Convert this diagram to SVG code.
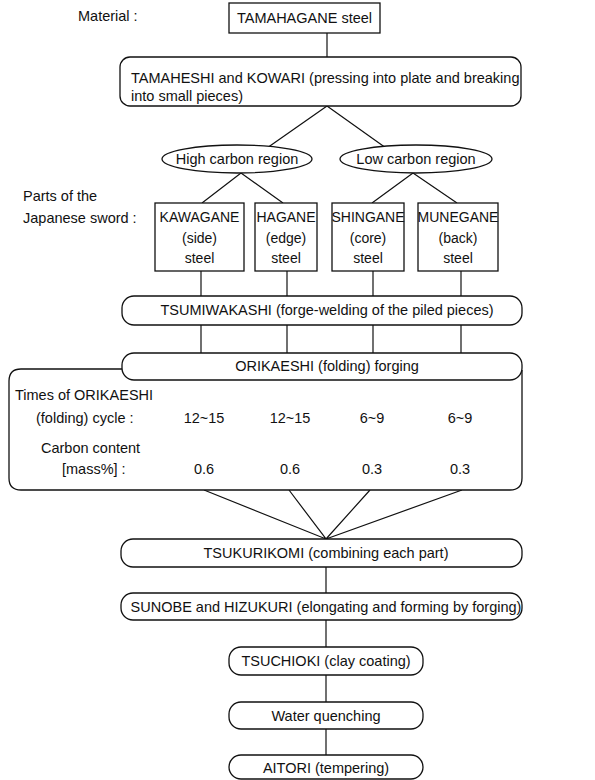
<svg xmlns="http://www.w3.org/2000/svg" width="595" height="780" viewBox="0 0 595 780">
<style>
text{font-family:"Liberation Sans",Arial,sans-serif;font-size:14.5px;fill:#111}
.c{text-anchor:middle}
.b{font-size:14px}
.s{fill:#fff;stroke:#111;stroke-width:1.3}
.l{stroke:#111;stroke-width:1.2;fill:none}
</style>
<rect width="595" height="780" fill="#fff"/>
<g id="connectors">
<line class="l" x1="327" y1="33" x2="327" y2="57"/>
<polyline class="l" points="267,148 327,106 386,148"/>
<polyline class="l" points="202,203 241,173 283,203"/>
<polyline class="l" points="372,203 413,173 457,203"/>
<line class="l" x1="201" y1="271" x2="201" y2="296"/>
<line class="l" x1="287" y1="271" x2="287" y2="296"/>
<line class="l" x1="373" y1="271" x2="373" y2="296"/>
<line class="l" x1="461" y1="271" x2="461" y2="296"/>
<line class="l" x1="201" y1="325" x2="201" y2="353"/>
<line class="l" x1="287" y1="325" x2="287" y2="353"/>
<line class="l" x1="373" y1="325" x2="373" y2="353"/>
<line class="l" x1="461" y1="325" x2="461" y2="353"/>
<polyline class="l" points="204,490 326,539 289,490"/>
<polyline class="l" points="370,490 326,539 462,490"/>
<line class="l" x1="326" y1="567" x2="326" y2="593"/>
<line class="l" x1="326" y1="620" x2="326" y2="647"/>
<line class="l" x1="326" y1="675" x2="326" y2="702"/>
<line class="l" x1="326" y1="729" x2="326" y2="755"/>
</g>
<g id="material-label"><text x="78" y="21">Material :</text></g>
<g id="tamahagane"><rect class="s" x="229" y="3" width="151" height="30"/><text class="c" x="304.5" y="23">TAMAHAGANE steel</text></g>
<g id="tamaheshi"><rect class="s" x="120" y="57" width="401" height="49" rx="10"/><text x="131" y="83">TAMAHESHI and KOWARI (pressing into plate and breaking</text><text x="131" y="101">into small pieces)</text></g>
<g id="high-carbon"><ellipse class="s" cx="237" cy="159" rx="75" ry="14"/><text class="c" x="237" y="164">High carbon region</text></g>
<g id="low-carbon"><ellipse class="s" cx="416" cy="159" rx="76" ry="14"/><text class="c" x="416" y="164">Low carbon region</text></g>
<g id="parts-label"><text x="23" y="201">Parts of the</text><text x="23" y="223">Japanese sword :</text></g>
<g id="kawagane"><rect class="s" x="155" y="203" width="89" height="68"/><text class="c b" x="199.5" y="222">KAWAGANE</text><text class="c b" x="199.5" y="243">(side)</text><text class="c b" x="199.5" y="263">steel</text></g>
<g id="hagane"><rect class="s" x="255" y="203" width="62" height="68"/><text class="c b" x="286" y="222">HAGANE</text><text class="c b" x="286" y="243">(edge)</text><text class="c b" x="286" y="263">steel</text></g>
<g id="shingane"><rect class="s" x="332" y="203" width="72" height="68"/><text class="c b" x="368" y="222">SHINGANE</text><text class="c b" x="368" y="243">(core)</text><text class="c b" x="368" y="263">steel</text></g>
<g id="munegane"><rect class="s" x="418" y="203" width="80" height="68"/><text class="c b" x="458" y="222">MUNEGANE</text><text class="c b" x="458" y="243">(back)</text><text class="c b" x="458" y="263">steel</text></g>
<g id="tsumiwakashi"><rect class="s" x="122" y="296" width="400" height="29" rx="12"/><text class="c" x="327" y="315">TSUMIWAKASHI (forge-welding of the piled pieces)</text></g>
<g id="orikaeshi">
<path class="s" d="M130,369 H21 Q9,369 9,381 V478 Q9,490 21,490 H510 Q522,490 522,478 V370"/>
<rect class="s" x="122" y="353" width="400" height="27" rx="12"/>
<text class="c" x="327" y="371">ORIKAESHI (folding) forging</text>
<text x="15" y="400">Times of ORIKAESHI</text>
<text x="36" y="423">(folding) cycle :</text>
<text class="c" x="204" y="423">12~15</text><text class="c" x="290" y="423">12~15</text><text class="c" x="372" y="423">6~9</text><text class="c" x="460" y="423">6~9</text>
<text x="41" y="453">Carbon content</text>
<text x="62" y="474">[mass%] :</text>
<text class="c" x="204" y="474">0.6</text><text class="c" x="290" y="474">0.6</text><text class="c" x="372" y="474">0.3</text><text class="c" x="460" y="474">0.3</text>
</g>
<g id="tsukurikomi"><rect class="s" x="121" y="539" width="401" height="28" rx="12"/><text class="c" x="326" y="558">TSUKURIKOMI (combining each part)</text></g>
<g id="sunobe"><rect class="s" x="121" y="593" width="401" height="27" rx="12"/><text class="c" x="326" y="612">SUNOBE and HIZUKURI (elongating and forming by forging)</text></g>
<g id="tsuchioki"><rect class="s" x="229" y="647" width="194" height="28" rx="12"/><text class="c" x="326" y="666">TSUCHIOKI (clay coating)</text></g>
<g id="water"><rect class="s" x="229" y="702" width="194" height="27" rx="12"/><text class="c" x="326" y="721">Water quenching</text></g>
<g id="aitori"><rect class="s" x="229" y="755" width="194" height="24" rx="12"/><text class="c" x="326" y="773">AITORI (tempering)</text></g>
</svg>
